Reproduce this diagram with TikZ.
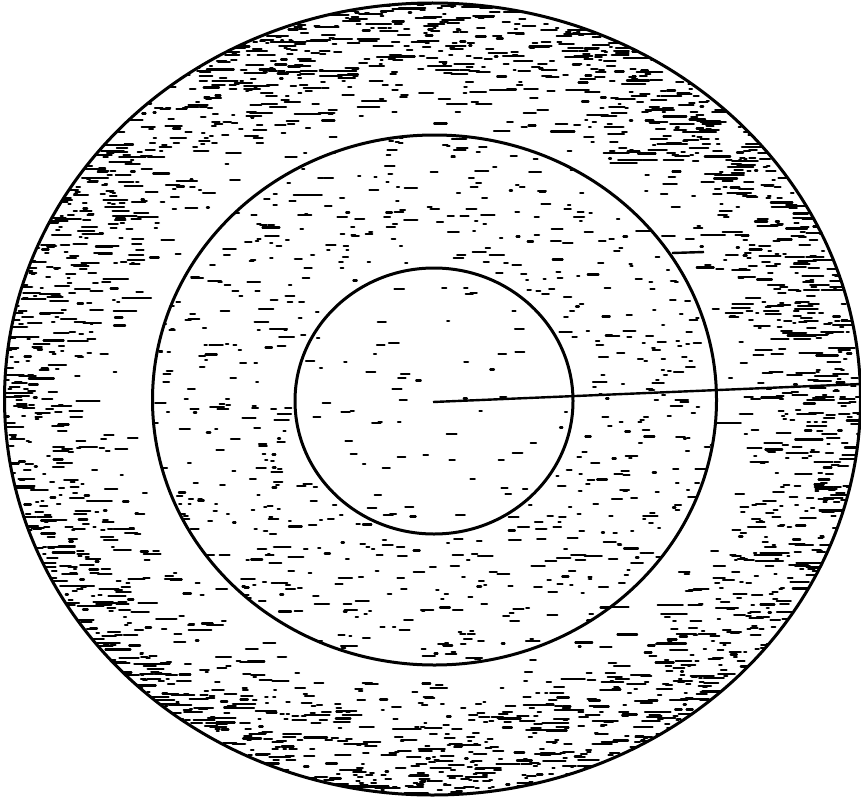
\documentclass[tikz,border=0pt]{standalone}
\begin{document}
\begin{tikzpicture}[x=1pt,y=-1pt,
  ring/.style={line width=3pt,black},
  stip/.style={line width=2.1pt,black,line cap=round},
  radius line/.style={line width=2.4pt,black}]
\useasboundingbox (0,0) rectangle (861,797);
\pgfmathsetseed{17}
% outer band: dense, biased to outer edge
\begin{scope}
\clip (432.5,399) ellipse [x radius=428, y radius=396];
\foreach \i in {1,...,2300}{
  \pgfmathsetmacro\a{rnd*360}
  \pgfmathsetmacro\t{0.68+0.32*(rnd^0.45)}
  \pgfmathsetmacro\L{2+rnd*rnd*28}
  \pgfmathsetmacro\px{432.5+\t*428*cos(\a)-\L/2}
  \pgfmathsetmacro\py{399+\t*396*sin(\a)}
  \draw[stip] (\px,\py) -- ++(\L,0);
}
\end{scope}
% middle band: medium
\begin{scope}
\clip (434.5,400) ellipse [x radius=282, y radius=265];
\foreach \i in {1,...,620}{
  \pgfmathsetmacro\a{rnd*360}
  \pgfmathsetmacro\t{sqrt(0.27+0.73*rnd)}
  \pgfmathsetmacro\L{2+rnd*rnd*16}
  \pgfmathsetmacro\px{434.5+\t*282*cos(\a)-\L/2}
  \pgfmathsetmacro\py{400+\t*265*sin(\a)}
  \draw[stip] (\px,\py) -- ++(\L,0);
}
\end{scope}
% inner disc: sparse
\begin{scope}
\clip (434,401) ellipse [x radius=139, y radius=133];
\foreach \i in {1,...,60}{
  \pgfmathsetmacro\a{rnd*360}
  \pgfmathsetmacro\t{0.97*sqrt(rnd)}
  \pgfmathsetmacro\L{2+rnd*8}
  \pgfmathsetmacro\px{434+\t*139*cos(\a)-\L/2}
  \pgfmathsetmacro\py{401+\t*133*sin(\a)}
  \draw[stip] (\px,\py) -- ++(\L,0);
}
\end{scope}
% rings
\draw[ring] (432.5,399) ellipse [x radius=428, y radius=396];
\draw[ring] (434.5,400) ellipse [x radius=282, y radius=265];
\draw[ring] (434,401) ellipse [x radius=139, y radius=133];
% radial line and small tick
\coordinate (c) at (433,402);
\coordinate (e) at (861,384);
\draw[radius line] (c) -- (e);
\coordinate (t1) at (672,253);
\coordinate (t2) at (704,252);
\draw[radius line] (t1) -- (t2);
\end{tikzpicture}
\end{document}
